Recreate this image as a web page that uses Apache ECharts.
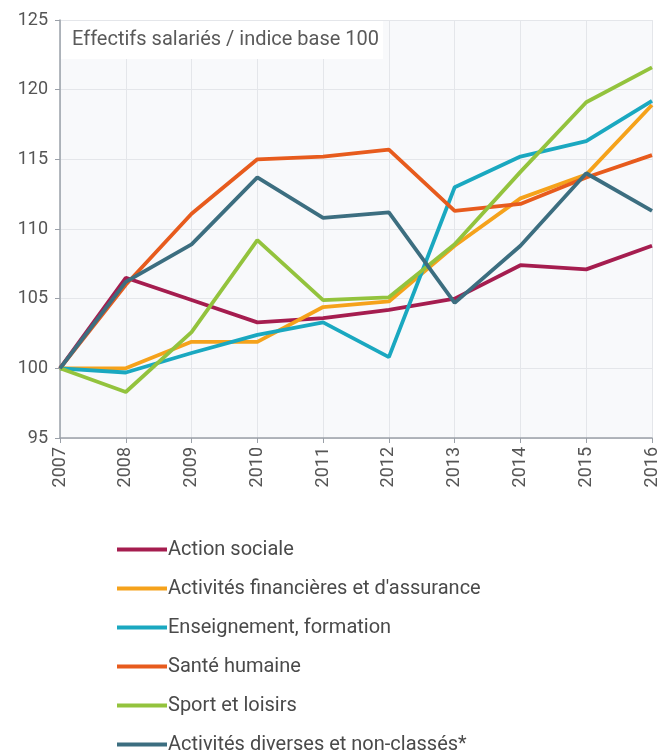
<!DOCTYPE html>
<html>
<head>
<meta charset="utf-8">
<script src="https://cdn.jsdelivr.net/npm/echarts@6/dist/echarts.min.js"></script>
<style>
  html, body { margin: 0; padding: 0; background: #fff; }
  #chart { width: 662px; height: 751px; }
</style>
</head>
<body>
<div id="chart"></div>
<script>
const years = ['2007', '2008', '2009', '2010', '2011', '2012', '2013', '2014', '2015', '2016'];

const actionSociale = [100, 106.5, 104.9, 103.3, 103.6, 104.2, 105.0, 107.4, 107.1, 108.8];
const activitesFinancieres = [100, 100.0, 101.9, 101.9, 104.4, 104.8, 108.8, 112.2, 113.9, 118.9];
const enseignement = [100, 99.7, 101.1, 102.4, 103.3, 100.8, 113.0, 115.2, 116.3, 119.2];
const santeHumaine = [100, 106.0, 111.1, 115.0, 115.2, 115.7, 111.3, 111.8, 113.7, 115.3];
const sportLoisirs = [100, 98.3, 102.6, 109.2, 104.9, 105.1, 108.9, 114.1, 119.1, 121.6];
const activitesDiverses = [100, 106.2, 108.9, 113.7, 110.8, 111.2, 104.7, 108.8, 114.0, 111.3];

const seriesNames = [
  'Action sociale',
  "Activités financières et d'assurance",
  'Enseignement, formation',
  'Santé humaine',
  'Sport et loisirs',
  'Activités diverses et non-classés*'
];
const seriesValues = [actionSociale, activitesFinancieres, enseignement, santeHumaine, sportLoisirs, activitesDiverses];
const colors = ['#a51d4f', '#f5a21b', '#1aa8c0', '#e75b1d', '#93c33d', '#3c6e80'];

const chart = echarts.init(document.getElementById('chart'));

const option = {
  animation: false,
  color: colors,
  textStyle: { fontFamily: 'Roboto' },
  title: {
    text: 'Effectifs salariés / indice base 100',
    left: 61,
    top: 21,
    padding: [9, 4, 9, 11],
    backgroundColor: '#ffffff',
    textStyle: { fontSize: 20, fontWeight: 'normal', color: '#5a5a5a' }
  },
  grid: {
    left: 60,
    right: 10,
    top: 20,
    bottom: 313,
    show: true,
    backgroundColor: '#f8f9fb',
    borderWidth: 0
  },
  legend: {
    orient: 'vertical',
    left: 112,
    top: 533,
    height: 260,
    icon: 'rect',
    itemWidth: 50,
    itemHeight: 4,
    itemGap: 16,
    data: seriesNames,
    textStyle: { fontSize: 20, lineHeight: 23, color: '#4a4a4a', padding: [0, 0, 0, -4] }
  },
  xAxis: {
    type: 'category',
    data: years,
    boundaryGap: false,
    axisLine: { lineStyle: { color: '#9aa0a8', width: 1.5 } },
    axisTick: { show: true, length: 5, lineStyle: { color: '#9aa0a8' } },
    axisLabel: { rotate: 90, fontSize: 18, color: '#555', margin: 9 },
    splitLine: { show: true, lineStyle: { color: '#e4e6ea' } }
  },
  yAxis: {
    type: 'value',
    min: 95,
    max: 125,
    interval: 5,
    axisLine: { show: true, lineStyle: { color: '#9aa0a8', width: 1.5 } },
    axisTick: { show: true, length: 5, lineStyle: { color: '#9aa0a8' } },
    axisLabel: { fontSize: 18, color: '#555', margin: 12 },
    splitLine: { show: true, lineStyle: { color: '#e4e6ea' } }
  },
  series: seriesNames.map((name, i) => ({
    name: name,
    type: 'line',
    data: seriesValues[i],
    symbol: 'none',
    lineStyle: { width: 3.8 }
  }))
};

chart.setOption(option);
</script>
</body>
</html>
